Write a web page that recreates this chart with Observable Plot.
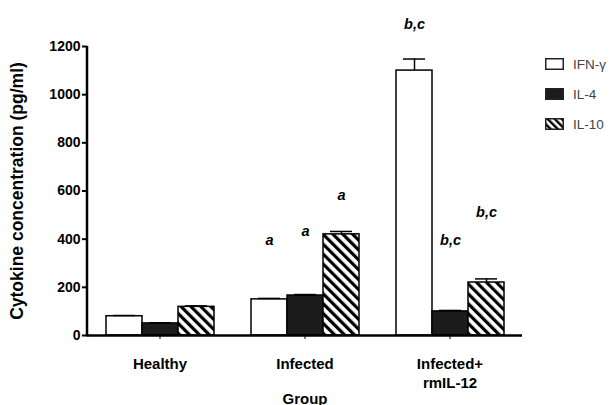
<!DOCTYPE html>
<html>
<head>
<meta charset="utf-8">
<script src="https://cdn.jsdelivr.net/npm/d3@7"></script>
<script src="https://cdn.jsdelivr.net/npm/@observablehq/plot@0.6"></script>
<style>
  body { margin: 0; background: #fff; }
  #wrap { position: relative; width: 613px; height: 405px; font-family: "Liberation Sans", Arial, sans-serif; }
  #legend { position: absolute; left: 545px; top: 49px; font-size: 13.5px; color: #444; }
  #legend .row { display: flex; align-items: center; height: 30px; }
  #legend svg { margin-right: 9px; }
</style>
</head>
<body>
<div id="wrap"><div id="legend"></div></div>
<script>
const groups = ["Healthy", "Infected", "Infected+\nrmIL-12"];
const cytokines = ["IFN-γ", "IL-4", "IL-10"];
const ifnValues = [80, 150, 1100];
const il4Values = [50, 166, 100];
const il10Values = [119, 420, 220];
const ifnErr = [3, 4, 48];
const il4Err = [3, 4, 4];
const il10Err = [4, 12, 15];
const ifnSig = ["", "a", "b,c"];
const il4Sig = ["", "a", "b,c"];
const il10Sig = ["", "a", "b,c"];
const ifnSigY = [null, 396, 1293];
const il4SigY = [null, 433, 396];
const il10SigY = [null, 583, 512];
const yTicks = [0, 200, 400, 600, 800, 1000, 1200];

const values = [ifnValues, il4Values, il10Values];
const errs = [ifnErr, il4Err, il10Err];
const sigs = [ifnSig, il4Sig, il10Sig];
const sigYs = [ifnSigY, il4SigY, il10SigY];
const data = groups.flatMap((g, i) => cytokines.map((c, j) => ({
  group: g, cytokine: c, value: values[j][i], err: errs[j][i], sig: sigs[j][i], sigY: sigYs[j][i]
})));

const font = "Liberation Sans, Arial, sans-serif";
const chart = Plot.plot({
  width: 613, height: 405,
  marginLeft: 86, marginRight: 90, marginTop: 46, marginBottom: 70,
  style: { fontFamily: font, background: "white", color: "black", fontSize: "14px" },
  fx: { domain: groups, padding: 0 },
  x: { domain: cytokines, paddingInner: 0, paddingOuter: 0.49, axis: null },
  y: { domain: [0, 1200] },
  color: { domain: cytokines, range: ["white", "#1c1c1c", "url(#hatch)"] },
  marks: [
    Plot.axisFx({ tickSize: 4, tickPadding: 16, fontSize: 15, fontWeight: "bold", lineHeight: 1.25,
                  label: "Group", labelAnchor: "center", labelOffset: 68, anchor: "bottom" }),
    Plot.axisY({ ticks: yTicks, tickFormat: d => String(d), tickSize: 5, tickPadding: 2, fontSize: 14, fontWeight: "bold", strokeWidth: 2,
                 label: "Cytokine concentration (pg/ml)", labelAnchor: "center", labelArrow: "none", labelOffset: 77 }),
    Plot.barY(data, { fx: "group", x: "cytokine", y: "value", fill: "cytokine", stroke: "black", strokeWidth: 1.5 }),
    Plot.ruleX(data, { fx: "group", x: "cytokine", y1: "value", y2: d => d.value + d.err, stroke: "black", strokeWidth: 1.5 }),
    Plot.tickY(data, { fx: "group", x: "cytokine", y: d => d.value + d.err, insetLeft: 7, insetRight: 7, stroke: "black", strokeWidth: 1.5 }),
    Plot.text(data.filter(d => d.sig), { fx: "group", x: "cytokine", y: "sigY", text: "sig",
                 fontSize: 14.5, fontWeight: "bold", fontStyle: "italic" }),
    Plot.ruleY([0], { stroke: "black", strokeWidth: 2.5 })
  ]
});

const svg = d3.select(chart);
svg.selectAll('[aria-label="fx-axis label"]').attr("font-size", 15).attr("font-weight", "bold");
svg.selectAll('[aria-label="fx-axis label"] text').attr("font-size", 15).attr("font-weight", "bold");
svg.selectAll('[aria-label="y-axis label"]').attr("font-size", 17.5).attr("font-weight", "bold");
svg.selectAll('[aria-label="y-axis label"] text').attr("font-size", 17.5).attr("font-weight", "bold");

const defs = svg.insert("defs", ":first-child");
const pat = defs.append("pattern").attr("id", "hatch").attr("patternUnits", "userSpaceOnUse")
  .attr("width", 7).attr("height", 7).attr("patternTransform", "rotate(-45)");
pat.append("rect").attr("width", 7).attr("height", 7).attr("fill", "white");
pat.append("rect").attr("width", 3.2).attr("height", 7).attr("fill", "black");

// vertical y-axis line at the left edge of the first facet, from the library's scales
const ys = chart.scale("y"), fxs = chart.scale("fx");
const xLeft = fxs.apply(groups[0]);
svg.append("line").attr("x1", xLeft).attr("x2", xLeft)
  .attr("y1", ys.apply(0) + 1.25).attr("y2", ys.apply(1200))
  .attr("stroke", "black").attr("stroke-width", 2.5);

document.getElementById("wrap").prepend(chart);

const legend = d3.select("#legend");
const fills = ["white", "#1c1c1c", "url(#hatchL)"];
cytokines.forEach((c, j) => {
  const row = legend.append("div").attr("class", "row");
  const s = row.append("svg").attr("width", 19).attr("height", 12);
  if (j === 2) {
    const p = s.append("defs").append("pattern").attr("id", "hatchL").attr("patternUnits", "userSpaceOnUse")
      .attr("width", 5).attr("height", 5).attr("patternTransform", "rotate(-45)");
    p.append("rect").attr("width", 5).attr("height", 5).attr("fill", "white");
    p.append("rect").attr("width", 2.4).attr("height", 5).attr("fill", "black");
  }
  s.append("rect").attr("x", 0.75).attr("y", 0.75).attr("width", 17.5).attr("height", 10.5)
    .attr("fill", fills[j]).attr("stroke", "#222").attr("stroke-width", 1.5);
  row.append("span").text(c);
});
</script>
</body>
</html>
